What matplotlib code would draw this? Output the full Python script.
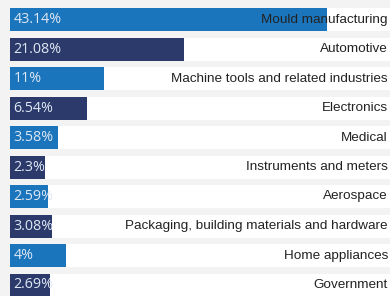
import matplotlib
matplotlib.use("Agg")
import matplotlib.pyplot as plt

categories = ["Mould manufacturing", "Automotive", "Machine tools and related industries",
              "Electronics", "Medical", "Instruments and meters", "Aerospace",
              "Packaging, building materials and hardware", "Home appliances", "Government"]
value_labels = ["43.14%", "21.08%", "11%", "6.54%", "3.58%", "2.3%", "2.59%", "3.08%", "4%", "2.69%"]
# bar lengths as drawn in the picture (percent-scale units)
bar_lengths = [43.14, 23.67, 12.79, 10.48, 6.53, 4.76, 5.17, 5.71, 7.62, 5.44]

colors = ["#1b75bc", "#2b3a6a"]

W, H = 390, 296
fig = plt.figure(figsize=(W / 100, H / 100), dpi=100)
fig.patch.set_facecolor("#f3f3f3")

left_px = 10
ax = fig.add_axes([left_px / W, 0, (W - left_px) / W, 1])
ax.set_facecolor("none")
px_per_unit = 317 / 43.14
xmax = (W - left_px) / px_per_unit
pitch = 29.5
first_center = 19.5
ax.set_xlim(0, xmax)
ax.set_ylim((H - first_center) / pitch, -first_center / pitch)
ax.axis("off")

bh = 23 / pitch
ys = list(range(len(categories)))
ax.barh(ys, [xmax] * len(ys), height=bh, color="white", left=0, zorder=1)
ax.barh(ys, bar_lengths, height=bh, color=[colors[i % 2] for i in ys], zorder=2)

for i in ys:
    ax.text(3.5 / px_per_unit, i, value_labels[i], ha="left", va="center",
            fontsize=10.3, color="#dfe7f3", family=["Open Sans", "DejaVu Sans"], zorder=3)
    ax.text(xmax - 2 / px_per_unit, i, categories[i], ha="right", va="center",
            fontsize=9.7, color="#222222", family=["Liberation Sans", "DejaVu Sans"], zorder=3)

fig.savefig("out.png", dpi=100, facecolor=fig.get_facecolor())
